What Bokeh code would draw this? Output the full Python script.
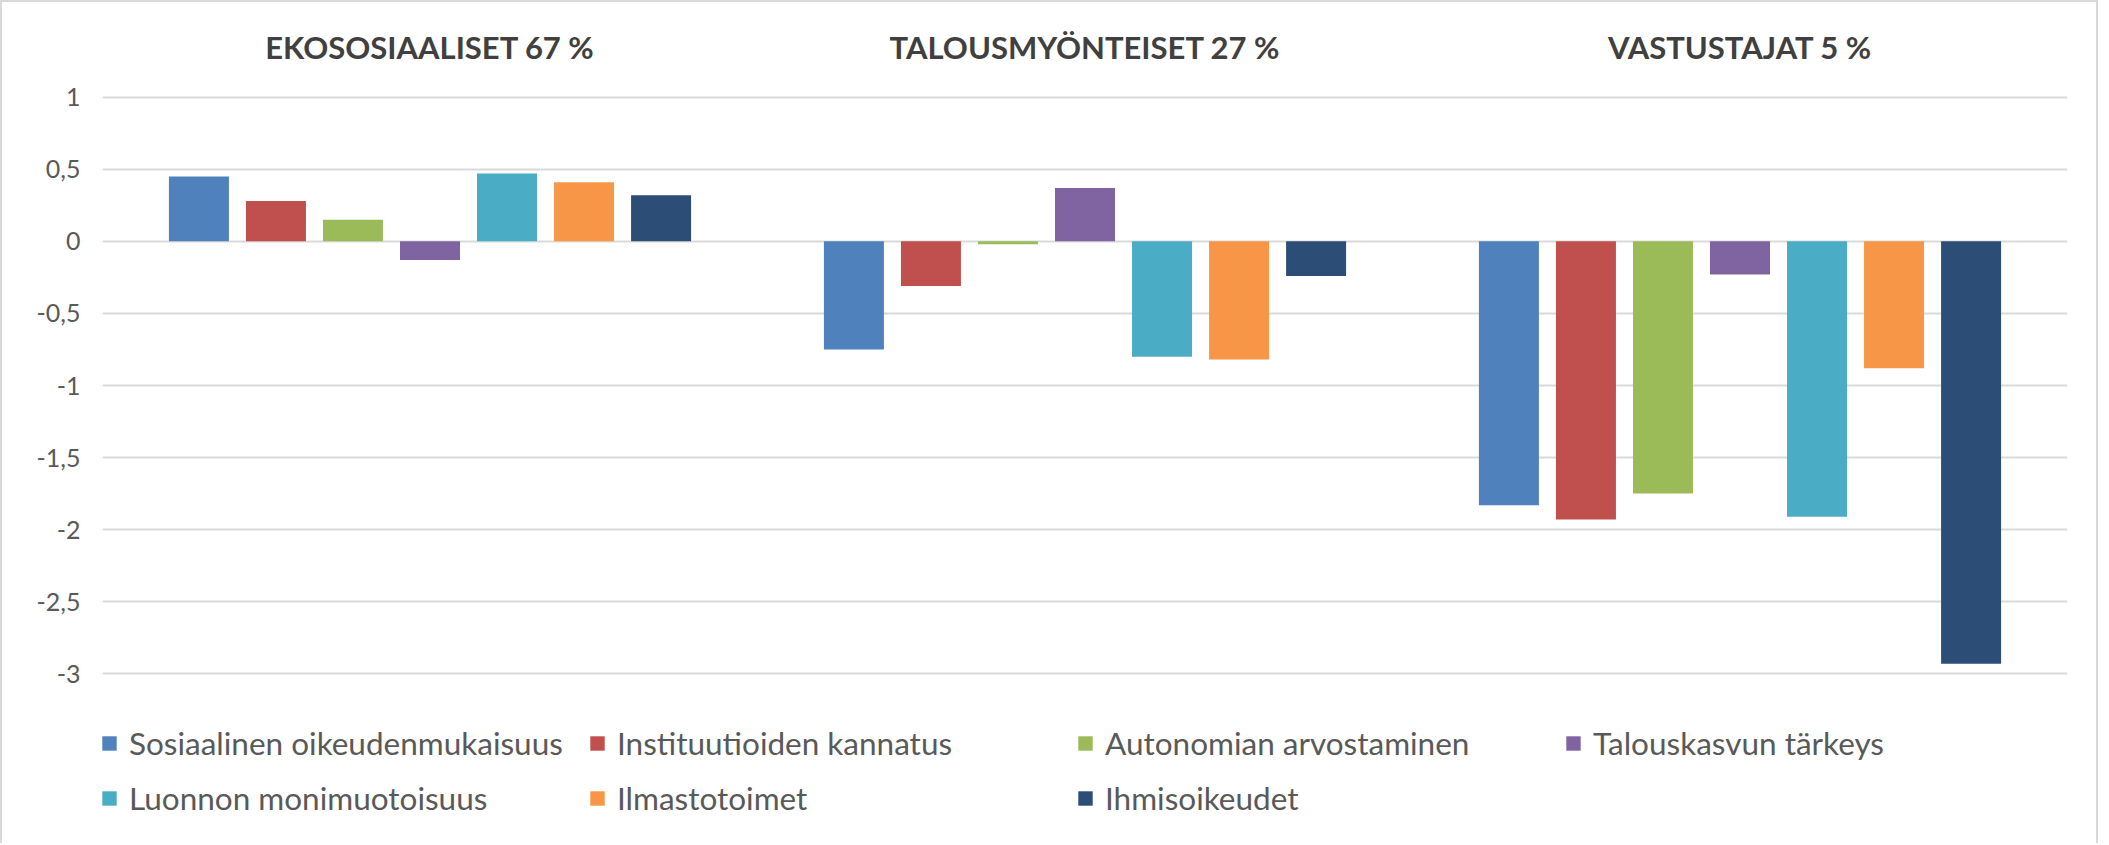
from bokeh.plotting import figure
from bokeh.models import Range1d, FixedTicker, Legend, LegendItem, ColumnDataSource
from bokeh.embed import file_html
from bokeh.resources import INLINE
from bokeh.core.properties import value

# ---- data ----
groups = ["EKOSOSIAALISET 67 %", "TALOUSMYÖNTEISET 27 %", "VASTUSTAJAT 5 %"]
series_names = [
    "Sosiaalinen oikeudenmukaisuus",
    "Instituutioiden kannatus",
    "Autonomian arvostaminen",
    "Talouskasvun tärkeys",
    "Luonnon monimuotoisuus",
    "Ilmastotoimet",
    "Ihmisoikeudet",
]
sosiaalinen = [0.45, -0.75, -1.83]
instituutiot = [0.28, -0.31, -1.93]
autonomia = [0.15, -0.02, -1.75]
talouskasvu = [-0.13, 0.37, -0.23]
luonto = [0.47, -0.80, -1.91]
ilmasto = [0.41, -0.82, -0.88]
ihmisoikeudet = [0.32, -0.24, -2.93]
series_values = [sosiaalinen, instituutiot, autonomia, talouskasvu, luonto, ilmasto, ihmisoikeudet]
colors = ["#4F81BD", "#C0504D", "#9BBB59", "#8064A2", "#4BACC6", "#F79646", "#2C4D75"]
tick_values = [1, 0.5, 0, -0.5, -1, -1.5, -2, -2.5, -3]
tick_labels = ["1", "0,5", "0", "-0,5", "-1", "-1,5", "-2", "-2,5", "-3"]

FONT = "Lato"
TEXT = "#595959"

p = figure(
    width=2098, height=843, output_backend="svg", toolbar_location=None, tools="",
    x_range=Range1d(-0.5, 2.5), y_range=Range1d(-4.1911, 1.657),
    x_axis_location=None,
    min_border_left=100, min_border_right=33, min_border_top=0, min_border_bottom=0,
)
p.styles = {"border-left": "2px solid #D9D9D9", "border-top": "2px solid #D9D9D9",
            "border-right": "2px solid #D9D9D9"}
p.outline_line_color = None
p.background_fill_color = "white"
p.xgrid.visible = False

# y axis
p.yaxis.ticker = FixedTicker(ticks=tick_values)
p.yaxis.major_label_overrides = dict(zip(tick_values, tick_labels))
p.yaxis.axis_line_color = None
p.yaxis.major_tick_line_color = None
p.yaxis.minor_tick_line_color = None
p.yaxis.major_tick_out = 0
p.yaxis.major_tick_in = 0
p.yaxis.major_label_standoff = 22
p.yaxis.major_label_text_font = FONT
p.yaxis.major_label_text_font_size = "25px"
p.yaxis.major_label_text_color = TEXT

p.ygrid.ticker = FixedTicker(ticks=tick_values)
p.ygrid.grid_line_color = "#D9D9D9"
p.ygrid.grid_line_width = 1.8

# bars
n = len(series_names)
pitch = 0.1176
bar_w = 0.0916
items = []
for i, (name, vals, col) in enumerate(zip(series_names, series_values, colors)):
    xs = [g + (i - (n - 1) / 2) * pitch for g in range(len(groups))]
    src = ColumnDataSource(dict(x=xs, top=vals))
    r = p.vbar(x="x", top="top", bottom=0, width=bar_w, source=src,
               fill_color=col, line_color=None)
    items.append(LegendItem(label=name, renderers=[r]))

# group titles
title_y = 1.35
p.text(x=list(range(len(groups))), y=[title_y] * len(groups), text=groups,
       text_font=value(FONT), text_font_style="bold", text_font_size="31px",
       text_color="#404040", text_align="center", text_baseline="alphabetic")

legend = Legend(items=items, orientation="horizontal", ncols=4,
                location=(-2, 28), glyph_width=18, glyph_height=18,
                label_standoff=11, label_width=442, spacing=17,
                padding=0, margin=0, border_line_color=None, background_fill_alpha=0,
                label_text_font=FONT, label_text_font_size="31.5px", label_text_color=TEXT)
p.add_layout(legend)

open("out.html", "w").write(file_html(p, INLINE))
